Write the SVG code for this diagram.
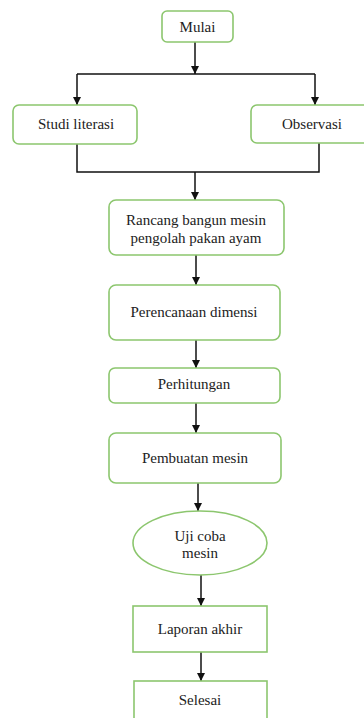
<svg xmlns="http://www.w3.org/2000/svg" width="364" height="718" viewBox="0 0 364 718">
<defs>
<style>
.n{fill:#fff;stroke:#8cc66e;stroke-width:1.6}
text{font-family:'Liberation Serif','Times New Roman','DejaVu Serif',serif;font-size:15px;fill:#222;text-anchor:middle}
.c{fill:none;stroke:#111;stroke-width:1.5}
</style>
<marker id="ah" viewBox="0 0 10 10" refX="10" refY="5" markerWidth="8" markerHeight="8" markerUnits="userSpaceOnUse" orient="auto">
<path d="M0,0 L10,5 L0,10 z" fill="#111"/>
</marker>
</defs>
<rect width="364" height="718" fill="#fff"/>
<g id="connectors">
<path class="c" d="M195,42 V74" marker-end="url(#ah)"/>
<path class="c" d="M77,74 H315"/>
<path class="c" d="M77,74 V105" marker-end="url(#ah)"/>
<path class="c" d="M315,74 V105" marker-end="url(#ah)"/>
<path class="c" d="M77,144 V172 H319 V143"/>
<path class="c" d="M195,172 V200" marker-end="url(#ah)"/>
<path class="c" d="M196,255 V285" marker-end="url(#ah)"/>
<path class="c" d="M196,340 V368" marker-end="url(#ah)"/>
<path class="c" d="M196,403 V433" marker-end="url(#ah)"/>
<path class="c" d="M198,483 V511" marker-end="url(#ah)"/>
<path class="c" d="M201,575 V606" marker-end="url(#ah)"/>
<path class="c" d="M201,652 V681" marker-end="url(#ah)"/>
</g>
<g id="mulai">
<rect class="n" x="162" y="11" width="71" height="31" rx="5"/>
<text x="197.5" y="32">Mulai</text>
</g>
<g id="studi">
<rect class="n" x="13" y="105" width="124" height="39" rx="6"/>
<text x="76" y="129">Studi literasi</text>
</g>
<g id="observasi">
<rect class="n" x="251" y="105" width="124" height="38" rx="6"/>
<text x="312" y="129">Observasi</text>
</g>
<g id="rancang">
<rect class="n" x="109" y="200" width="175" height="55" rx="7"/>
<text x="196" y="225">Rancang bangun mesin</text>
<text x="196" y="243">pengolah pakan ayam</text>
</g>
<g id="perencanaan">
<rect class="n" x="109" y="285" width="171" height="55" rx="7"/>
<text x="194" y="317">Perencanaan dimensi</text>
</g>
<g id="perhitungan">
<rect class="n" x="109" y="368" width="171" height="35" rx="6"/>
<text x="194" y="389">Perhitungan</text>
</g>
<g id="pembuatan">
<rect class="n" x="109" y="433" width="172" height="50" rx="7"/>
<text x="195" y="463">Pembuatan mesin</text>
</g>
<g id="ujicoba">
<ellipse class="n" cx="200" cy="543" rx="67" ry="32"/>
<text x="200" y="541">Uji coba</text>
<text x="200" y="558">mesin</text>
</g>
<g id="laporan">
<rect class="n" x="133" y="606" width="134" height="46"/>
<text x="200" y="634">Laporan akhir</text>
</g>
<g id="selesai">
<rect class="n" x="134" y="681" width="133" height="50"/>
<text x="200" y="705">Selesai</text>
</g>
</svg>
